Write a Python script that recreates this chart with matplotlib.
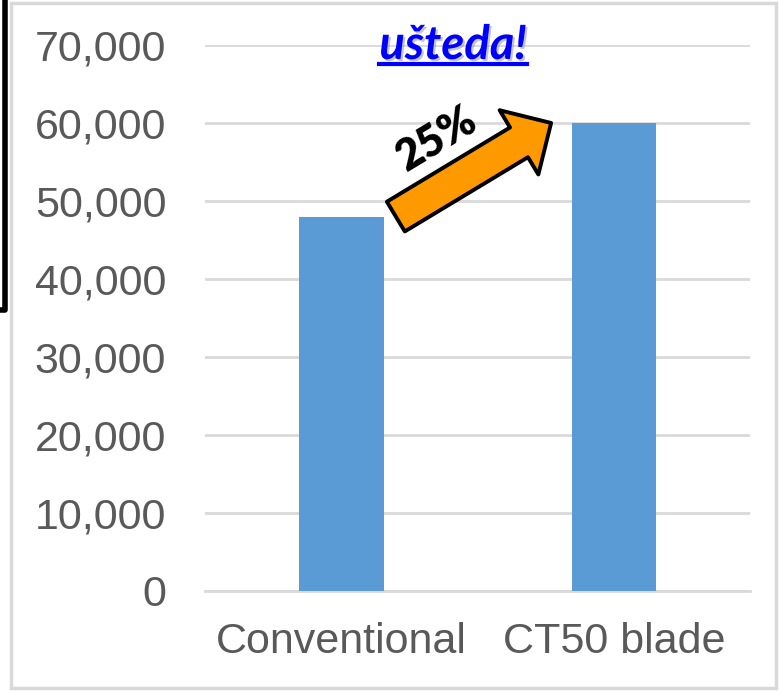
import matplotlib
matplotlib.use("Agg")
import matplotlib.pyplot as plt
import matplotlib.patheffects as pe
from matplotlib.lines import Line2D
from matplotlib.patches import Rectangle
from matplotlib.ticker import FuncFormatter

categories = ["Conventional", "CT50 blade"]
values = [48000, 60000]
yticks = [0, 10000, 20000, 30000, 40000, 50000, 60000, 70000]
title = "ušteda!"
gain = f"{(values[1] / values[0] - 1) * 100:.0f}%"

bar_color = "#5B9BD5"
grid_color = "#D9D9D9"
tick_color = "#595959"

fig = plt.figure(figsize=(7.8, 6.92), dpi=100)
ax = fig.add_axes([0.263, 0.146, 0.6985, 0.789])

ax.bar(range(len(categories)), values, width=0.31, color=bar_color, zorder=3)
ax.set_xlim(-0.5, len(categories) - 0.5)
ax.set_ylim(yticks[0], yticks[-1])
ax.set_yticks(yticks)
ax.yaxis.set_major_formatter(FuncFormatter(lambda v, _: f"{v:,.0f}"))
ax.set_xticks(range(len(categories)))
ax.set_xticklabels(categories)

ax.grid(axis="y", color=grid_color, lw=2, zorder=0)
for s in ["top", "right", "left"]:
    ax.spines[s].set_visible(False)
ax.spines["bottom"].set_color(grid_color)
ax.spines["bottom"].set_linewidth(2)
ax.tick_params(axis="both", length=0, colors=tick_color)
ax.tick_params(axis="y", pad=28)
ax.tick_params(axis="x", pad=22)
for lab in ax.get_yticklabels() + ax.get_xticklabels():
    lab.set_fontfamily("Liberation Sans")
    lab.set_fontsize(31)

# growth arrow between the two bar tops
ax.annotate("", xy=(0.77, values[1]), xytext=(0.2, values[0]),
            arrowprops=dict(arrowstyle="simple,head_length=2.7,head_width=5.4,tail_width=2.5",
                            mutation_scale=10, fc="#FF9900", ec="black", lw=2.8,
                            shrinkA=0, shrinkB=0), zorder=5)
ax.text(0.35, 58000, gain, rotation=31, ha="center", va="center",
        fontsize=31, fontweight="heavy", family=["Lato", "DejaVu Sans"], zorder=6)

t = fig.text(0.581, 0.935, title, ha="center", va="center", fontsize=34,
             fontweight="bold", fontstyle="italic", color="#0000FF",
             family=["Lato", "DejaVu Sans"],
             path_effects=[pe.withSimplePatchShadow(offset=(1.5, -1.5), shadow_rgbFace="#A0A0A0", alpha=0.6)])

fig.canvas.draw()
bb = t.get_window_extent().transformed(fig.transFigure.inverted())
fig.add_artist(Line2D([bb.x0, bb.x1], [bb.y0 + 0.004, bb.y0 + 0.004],
                      color="#0000FF", lw=3, transform=fig.transFigure))

# outer frame and bracket
fig.add_artist(Rectangle((0.0135, 0.006), 0.981, 0.989, transform=fig.transFigure,
                         fill=False, ec=grid_color, lw=2.5))
fig.add_artist(Line2D([0.006, 0.006, 0.0], [1.0, 0.552, 0.552], color="black",
                      lw=4, transform=fig.transFigure, solid_joinstyle="round"))

fig.savefig("out.png", dpi=100)
